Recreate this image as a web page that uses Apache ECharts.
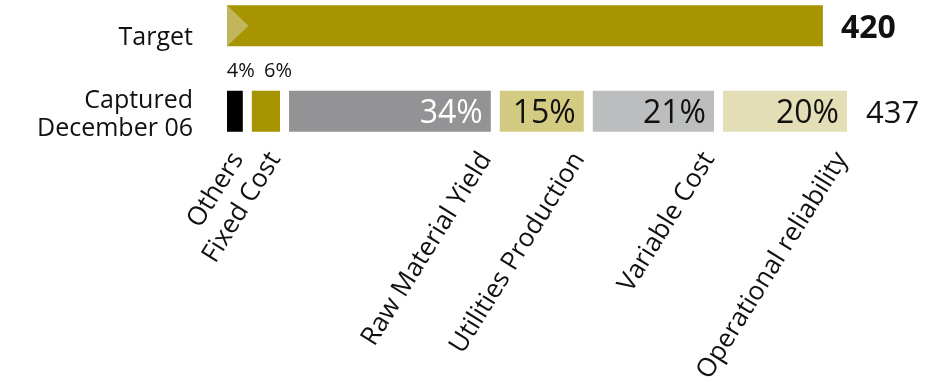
<!DOCTYPE html>
<html>
<head>
<meta charset="utf-8">
<script src="https://cdn.jsdelivr.net/npm/echarts@6/dist/echarts.min.js"></script>
<style>
  html, body { margin: 0; padding: 0; background: #ffffff; }
  #chart { width: 927px; height: 382px; }
</style>
</head>
<body>
<div id="chart"></div>
<script>
// Row labels (top to bottom)
const rows = ['Target', 'Captured\nDecember 06'];

// Totals for each row
const targetValue = 420;
const capturedTotal = 437;

// Breakdown of the captured total, in percent
const segmentNames = ['Others', 'Fixed Cost', 'Raw Material Yield', 'Utilities Production', 'Variable Cost', 'Operational reliability'];
const segmentShares = [4, 6, 34, 15, 21, 20];

// Styling
const FONT = "'Open Sans', 'Noto Sans', sans-serif";
const segmentColors = ['#000000', '#a69400', '#939396', '#d4cb82', '#bcbdbf', '#e3deb5'];
const segmentLabelColors = ['#111111', '#111111', '#ffffff', '#111111', '#111111', '#111111'];
const targetColor = '#a69400';
const arrowColor = '#c2b65c';
const BAR_H = 41;
const GAP = 9;

// Cumulative start/end of every segment in the same units as the totals
const segmentData = [];
let acc = 0;
segmentShares.forEach((share, i) => {
  const start = acc * capturedTotal / 100;
  acc += share;
  const end = acc * capturedTotal / 100;
  segmentData.push([start, end, i]);
});

const chart = echarts.init(document.getElementById('chart'), null, { renderer: 'canvas' });

chart.setOption({
  animation: false,
  grid: { left: 227, right: 19, top: 25.75, bottom: 270.75, containLabel: false },
  xAxis: {
    type: 'value', min: 0, max: 480, show: false
  },
  yAxis: {
    type: 'category',
    inverse: true,
    boundaryGap: false,
    data: rows,
    axisLine: { show: false },
    axisTick: { show: false },
    splitLine: { show: false },
    axisLabel: {
      margin: 34,
      align: 'right',
      formatter: function (v, i) {
        if (i === 0) return '{t|' + v + '}';
        return v.split('\n').map(s => '{c|' + s + '}').join('\n');
      },
      rich: {
        t: { fontFamily: FONT, fontSize: 25, color: '#111', padding: [24, 0, 0, 0] },
        c: { fontFamily: FONT, fontSize: 25, color: '#111', lineHeight: 28, padding: [8, 0, 0, 0] }
      }
    }
  },
  series: [
    {
      // Target bar with its arrow head and value
      type: 'custom',
      data: [[targetValue, 0]],
      renderItem: function (params, api) {
        const p0 = api.coord([0, api.value(1)]);
        const p1 = api.coord([api.value(0), api.value(1)]);
        const top = p0[1] - BAR_H / 2;
        return {
          type: 'group',
          children: [
            { type: 'rect', shape: { x: p0[0], y: top, width: p1[0] - p0[0], height: BAR_H }, style: { fill: targetColor } },
            { type: 'polygon', shape: { points: [[p0[0], top], [p0[0] + 21.5, p0[1]], [p0[0], top + BAR_H]] }, style: { fill: arrowColor } },
            { type: 'text', x: p1[0] + 18, y: p1[1] + 3,
              style: { text: String(api.value(0)), font: 'bold 32px ' + FONT, fill: '#111', textAlign: 'left', textVerticalAlign: 'middle', align: 'left', verticalAlign: 'middle' } }
          ]
        };
      }
    },
    {
      // Captured breakdown: one segment per cost driver
      type: 'custom',
      data: segmentData,
      renderItem: function (params, api) {
        const i = api.value(2);
        const p0 = api.coord([api.value(0), 1]);
        const p1 = api.coord([api.value(1), 1]);
        const isLast = i === segmentShares.length - 1;
        const w = p1[0] - p0[0] - (isLast ? 0 : GAP);
        const right = p0[0] + w;
        const top = p0[1] - BAR_H / 2;
        const share = segmentShares[i];
        const children = [
          { type: 'rect', shape: { x: p0[0], y: top, width: w, height: BAR_H }, style: { fill: segmentColors[i] } },
          { type: 'text', x: right - 5, y: top + BAR_H + 23, rotation: 58 * Math.PI / 180,
            style: { text: segmentNames[i], font: '26px ' + FONT, fill: '#111', textAlign: 'right', textVerticalAlign: 'middle', align: 'right', verticalAlign: 'middle' } }
        ];
        if (share < 10) {
          children.push({ type: 'text', x: right - 2, y: top - 19,
            style: { text: share + '%', font: '20px ' + FONT, fill: '#111', textAlign: 'center', textVerticalAlign: 'middle', align: 'center', verticalAlign: 'middle' } });
        } else {
          children.push({ type: 'text', x: right - 8, y: p0[1] + 3,
            style: { text: share + '%', font: '32px ' + FONT, fill: segmentLabelColors[i], textAlign: 'right', textVerticalAlign: 'middle', align: 'right', verticalAlign: 'middle' } });
        }
        return { type: 'group', children: children };
      }
    },
    {
      // Captured total at the end of the row
      type: 'custom',
      data: [[capturedTotal, 1]],
      renderItem: function (params, api) {
        const p = api.coord([api.value(0), api.value(1)]);
        return { type: 'text', x: p[0] + 19, y: p[1] + 3,
          style: { text: String(api.value(0)), font: '31px ' + FONT, fill: '#111', textAlign: 'left', textVerticalAlign: 'middle', align: 'left', verticalAlign: 'middle' } };
      }
    }
  ]
});
</script>
</body>
</html>
